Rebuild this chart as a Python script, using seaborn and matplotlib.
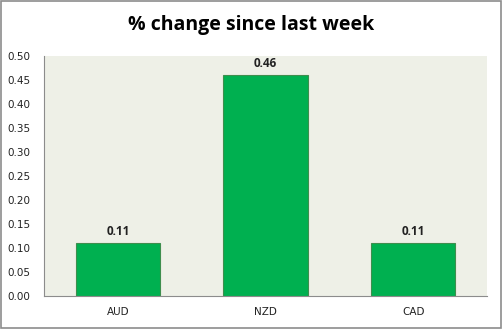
import matplotlib
matplotlib.use("Agg")
import matplotlib.pyplot as plt
import seaborn as sns
import pandas as pd
from matplotlib.patches import Rectangle

currencies = ["AUD", "NZD", "CAD"]
changes = [0.11, 0.46, 0.11]
yticks = [0.00, 0.05, 0.10, 0.15, 0.20, 0.25, 0.30, 0.35, 0.40, 0.45, 0.50]

df = pd.DataFrame({"currency": currencies, "change": changes})

sns.set_theme(style="white")
plt.rcParams["font.family"] = ["DejaVu Sans"]

fig = plt.figure(figsize=(5.03, 3.29), dpi=100)
fig.patch.set_facecolor("white")
ax = fig.add_axes([44 / 503, 1 - 296 / 329, (487 - 44) / 503, (296 - 56) / 329])
ax.set_facecolor("#EEF0E7")

sns.barplot(data=df, x="currency", y="change", color="#00B050", saturation=1,
            width=0.57, edgecolor="#3E8E4E", linewidth=0.8, ax=ax)

for i, v in enumerate(changes):
    ax.text(i, v + 0.011, f"{v:.2f}", ha="center", va="bottom",
            fontsize=8.5, fontweight="bold", color="#222222", family="Open Sans")

ax.set_ylim(0, 0.5)
ax.set_yticks(yticks)
ax.set_yticklabels([f"{t:.2f}" for t in yticks], fontsize=7.5, color="#222222")
ax.tick_params(axis="x", labelsize=7.5, colors="#222222", pad=8, length=0)
ax.tick_params(axis="y", length=0, pad=10)
ax.set_xlabel("")
ax.set_ylabel("")
for s in ["top", "right"]:
    ax.spines[s].set_visible(False)
for s in ["left", "bottom"]:
    ax.spines[s].set_color("#8C8C8C")
    ax.spines[s].set_linewidth(0.8)

fig.text(0.5, 1 - 25 / 329, "% change since last week", ha="center", va="center",
         fontsize=14, fontweight="bold", color="black", family="Open Sans")

fig.patches.append(Rectangle((0.001, 0.002), 0.996, 0.995, transform=fig.transFigure,
                             fill=False, edgecolor="#8C8C8C", linewidth=1.2))

fig.savefig("out.png", dpi=100, facecolor="white")
